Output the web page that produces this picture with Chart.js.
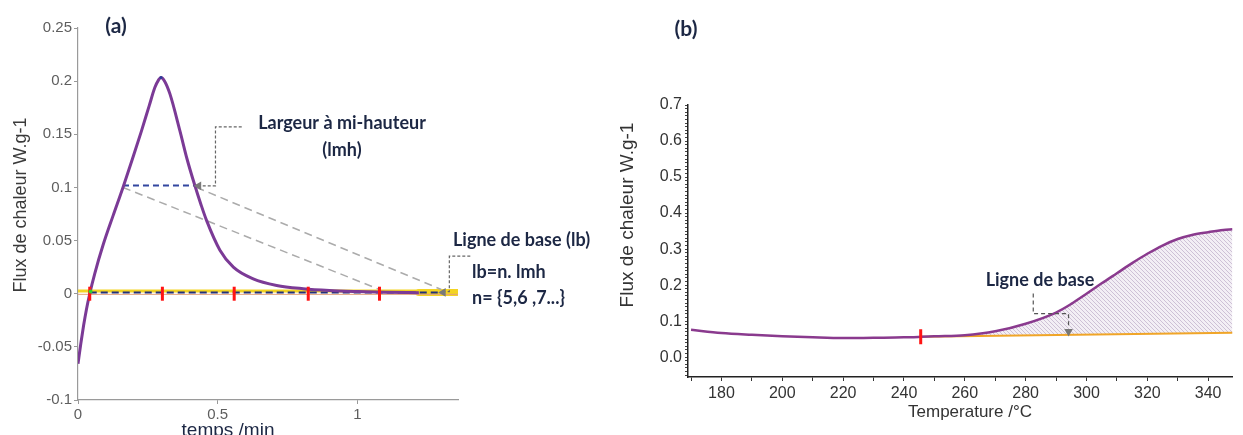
<!DOCTYPE html>
<html lang="fr">
<head>
<meta charset="utf-8">
<script src="https://cdn.jsdelivr.net/npm/chart.js@4.4.1/dist/chart.umd.min.js"></script>
<style>
  html, body { margin: 0; padding: 0; background: #fff; }
  body { width: 1243px; height: 435px; position: relative; overflow: hidden; }
  #chartA { position: absolute; left: 0; top: 0; }
  #chartB { position: absolute; left: 600px; top: 0; }
</style>
</head>
<body>
<canvas id="chartA" width="600" height="435"></canvas>
<canvas id="chartB" width="643" height="435"></canvas>
<script>
// ---- (a) flux de chaleur en fonction du temps ----
const tempsA = [0, 0.01, 0.02, 0.03, 0.042, 0.06, 0.09, 0.125, 0.161, 0.195, 0.227, 0.255, 0.275, 0.288, 0.297,
                0.31, 0.329, 0.365, 0.39, 0.418, 0.44, 0.46, 0.508, 0.556, 0.627, 0.711, 0.806, 0.9, 1.0, 1.1, 1.22];
const fluxA = [-0.066, -0.047, -0.03, -0.015, 0, 0.019, 0.046, 0.073, 0.1, 0.127, 0.153, 0.177, 0.194, 0.201, 0.2035,
               0.2, 0.188, 0.153, 0.127, 0.102, 0.084, 0.069, 0.041, 0.025, 0.014, 0.0078, 0.0047, 0.003, 0.002, 0.0013, 0.001];
const reperesA = [0.042, 0.302, 0.559, 0.824, 1.079];   // traits rouges
const lmhX = [0.161, 0.424];                             // largeur à mi-hauteur
const lmhY = 0.1018;
const baseAX = [0, 1.36];
const ticksYA = [-0.1, -0.05, 0, 0.05, 0.1, 0.15, 0.2, 0.25];
const ticksXA = [0, 0.5, 1];

// ---- (b) flux de chaleur en fonction de la température ----
const tempB = [170, 180, 190, 200, 210, 220, 230, 240, 245.5, 250, 260, 270, 280, 290, 295, 300,
               305, 310, 315, 320, 325, 330, 335, 340, 345, 348];
const fluxB = [0.076, 0.067, 0.062, 0.058, 0.055, 0.053, 0.054, 0.055, 0.0565, 0.058, 0.061, 0.072, 0.093, 0.124, 0.148, 0.176,
               0.205, 0.233, 0.261, 0.287, 0.31, 0.328, 0.34, 0.347, 0.353, 0.355];
const baseBX = [245.5, 348];
const baseBY = [0.0565, 0.068];
const ticksYB = [0, 0.1, 0.2, 0.3, 0.4, 0.5, 0.6, 0.7];
const ticksXB = [180, 200, 220, 240, 260, 280, 300, 320, 340];

const pts = (xs, ys) => xs.map((x, i) => ({ x, y: Array.isArray(ys) ? ys[i] : ys }));

const textes = {
  id: 'textes',
  afterDraw(chart, args, opts) {
    const ctx = chart.ctx;
    for (const t of opts.items) {
      ctx.save();
      ctx.font = t.font;
      ctx.fillStyle = t.color;
      ctx.textAlign = t.align || 'center';
      ctx.textBaseline = 'middle';
      ctx.translate(t.x, t.y);
      if (t.rot) ctx.rotate(t.rot);
      ctx.fillText(t.text, 0, 0);
      ctx.restore();
    }
  }
};

const navy = '#1c2744';
const annot = 'bold 18px Lato';

new Chart(document.getElementById('chartA'), {
  type: 'scatter',
  data: {
    datasets: [
      { data: pts(tempsA, fluxA), showLine: true, borderColor: '#7b3a96', borderWidth: 3, pointRadius: 0,
        cubicInterpolationMode: 'monotone', order: 3 },
      { data: pts(baseAX, 0.0025), showLine: true, borderColor: '#f3d423', borderWidth: 3, pointRadius: 0, order: 9 },
      { data: pts(baseAX, -0.0006), showLine: true, borderColor: '#e3a27a', borderWidth: 1, pointRadius: 0, order: 8 },
      { data: pts([1.22, 1.355], 0.0012), showLine: true, borderColor: '#f3d423', borderWidth: 7, pointRadius: 0,
        borderCapStyle: 'round', order: 9 },
      { data: pts([0.042, 1.30], 0.0012), showLine: true, borderColor: '#23307a', borderWidth: 2, borderDash: [7, 4],
        pointRadius: 0, order: 6 },
      { data: pts(lmhX, lmhY), showLine: true, borderColor: '#3347a0', borderWidth: 2, borderDash: [6, 4],
        pointRadius: 0, order: 5 },
      { data: pts([0.161, 1.079], [0.1, 0.004]), showLine: true, borderColor: '#ababab', borderWidth: 1.5,
        borderDash: [8, 5], pointRadius: 0, order: 7 },
      { data: pts([0.424, 1.30], [0.1, 0.004]), showLine: true, borderColor: '#ababab', borderWidth: 1.5,
        borderDash: [8, 5], pointRadius: 0, order: 7 },
      { data: pts(reperesA, 0), pointStyle: 'line', rotation: 90, pointRadius: 7, borderWidth: 3,
        borderColor: '#ff1414', order: 1 },
      { data: pts([0.045], 0.002), pointRadius: 2, backgroundColor: '#2fd12f', borderWidth: 0, order: 0 },
      { data: pts([0.297], 0.2035), pointRadius: 1.5, backgroundColor: '#2b3f9a', borderWidth: 0, order: 0 },
      { data: pts([0.586, 0.492, 0.492, 0.44], [0.157, 0.157, 0.1015, 0.1015]), showLine: true, borderColor: '#666',
        borderWidth: 1.2, borderDash: [3, 2], pointRadius: 0, order: 2 },
      { data: pts([0.432], 0.1015), pointStyle: 'triangle', rotation: 270, pointRadius: 5, backgroundColor: '#7a7a7a',
        borderWidth: 0, order: 2 },
      { data: pts([1.404, 1.329, 1.329, 1.315], [0.0353, 0.0353, 0.002, 0.002]), showLine: true, borderColor: '#666',
        borderWidth: 1.2, borderDash: [3, 2], pointRadius: 0, clip: false, order: 2 },
      { data: pts([1.307], 0.0012), pointStyle: 'triangle', rotation: 270, pointRadius: 5, backgroundColor: '#7a7a7a',
        borderWidth: 0, clip: false, order: 2 }
    ]
  },
  options: {
    responsive: false,
    animation: false,
    events: [],
    layout: { padding: { left: 0, top: 28, right: 142, bottom: 0 } },
    plugins: {
      legend: { display: false },
      tooltip: { enabled: false },
      textes: { items: [
        { text: '(a)', x: 116, y: 26, font: 'bold 21px Lato', color: navy },
        { text: 'Flux de chaleur W.g-1', x: 21, y: 205, rot: -Math.PI / 2, font: '18px "Liberation Sans"', color: '#3a3a3a' },
        { text: 'temps /min', x: 228, y: 431, font: '19px "Liberation Sans"', color: navy },
        { text: 'Largeur à mi-hauteur', x: 342, y: 123, font: annot, color: navy },
        { text: '(lmh)', x: 342, y: 150, font: annot, color: navy },
        { text: 'Ligne de base (lb)', x: 453, y: 240, align: 'left', font: annot, color: navy },
        { text: 'lb=n. lmh', x: 472, y: 272, align: 'left', font: annot, color: navy },
        { text: 'n= {5,6 ,7...}', x: 472, y: 298, align: 'left', font: annot, color: navy }
      ] }
    },
    scales: {
      x: {
        type: 'linear', min: 0, max: 1.36,
        afterBuildTicks: s => { s.ticks = ticksXA.map(v => ({ value: v })); },
        afterFit: s => { s.height = 35; },
        ticks: { font: { family: 'Liberation Sans', size: 15 }, color: '#5e5e5e', padding: 2, maxRotation: 0,
                 callback: v => String(v) },
        grid: { drawOnChartArea: false, tickLength: 4, color: '#999' },
        border: { color: '#9a9a9a', width: 1.2 }
      },
      y: {
        min: -0.1, max: 0.25,
        afterBuildTicks: s => { s.ticks = ticksYA.map(v => ({ value: v })); },
        afterFit: s => { s.width = 78; },
        ticks: { font: { family: 'Liberation Sans', size: 15 }, color: '#5e5e5e', padding: 2,
                 callback: v => String(+v.toFixed(2)) },
        grid: { drawOnChartArea: false, tickLength: 4, color: '#999' },
        border: { color: '#9a9a9a', width: 1.2 }
      }
    }
  },
  plugins: [textes]
});

// motif hachuré pour l'aire au-dessus de la ligne de base
const ctxB = document.getElementById('chartB').getContext('2d');
const tuile = document.createElement('canvas');
tuile.width = 4; tuile.height = 4;
const g = tuile.getContext('2d');
g.fillStyle = '#f3eff5';
g.fillRect(0, 0, 4, 4);
g.strokeStyle = '#c9bbd2';
g.lineWidth = 0.9;
g.beginPath();
g.moveTo(0, 0); g.lineTo(4, 4);
g.moveTo(-2, 2); g.lineTo(2, 6);
g.moveTo(2, -2); g.lineTo(6, 2);
g.stroke();
const hachures = ctxB.createPattern(tuile, 'repeat');

const pic = tempB.map((t, i) => ({ x: t, y: fluxB[i] })).filter(p => p.x >= baseBX[0]);
const minorX = [];
for (let v = 170; v <= 340; v += 10) minorX.push(v);
const minorY = [];
for (let k = -5; k <= 70; k++) minorY.push(k / 100);

new Chart(ctxB, {
  type: 'scatter',
  data: {
    datasets: [
      { data: pts(tempB, fluxB), showLine: true, borderColor: '#8a3a8e', borderWidth: 2.5, pointRadius: 0,
        cubicInterpolationMode: 'monotone', order: 2 },
      { data: pic, showLine: true, borderWidth: 0, pointRadius: 0, cubicInterpolationMode: 'monotone',
        backgroundColor: hachures, fill: { target: 2, above: hachures, below: hachures }, order: 8 },
      { data: pts(baseBX, baseBY), showLine: true, borderColor: '#f0a528', borderWidth: 2, pointRadius: 0, order: 3 },
      { data: pts([245.5], 0.0565), pointStyle: 'line', rotation: 90, pointRadius: 7.5, borderWidth: 3,
        borderColor: '#ff1414', order: 1 },
      { data: pts([282.5, 282.5, 294.1, 294.1], [0.177, 0.121, 0.121, 0.08]), showLine: true, borderColor: '#555',
        borderWidth: 1.2, borderDash: [4, 3], pointRadius: 0, order: 1 },
      { data: pts([294.1], 0.071), pointStyle: 'triangle', rotation: 180, pointRadius: 5, backgroundColor: '#777',
        borderWidth: 0, order: 1 }
    ]
  },
  options: {
    responsive: false,
    animation: false,
    events: [],
    layout: { padding: { left: 0, top: 105, right: 0, bottom: 0 } },
    plugins: {
      legend: { display: false },
      tooltip: { enabled: false },
      textes: { items: [
        { text: '(b)', x: 86, y: 29, font: 'bold 21px Lato', color: navy },
        { text: 'Flux de chaleur W.g-1', x: 28, y: 215, rot: -Math.PI / 2, font: '19px "Liberation Sans"', color: '#333' },
        { text: 'Temperature /°C', x: 370, y: 412, font: '17px "Liberation Sans"', color: '#333' },
        { text: 'Ligne de base', x: 440, y: 280, font: annot, color: navy }
      ] }
    },
    scales: {
      x: {
        type: 'linear', min: 169, max: 348,
        afterBuildTicks: s => { s.ticks = minorX.map(v => ({ value: v })); },
        afterFit: s => { s.height = 58; },
        ticks: { font: { family: 'Liberation Sans', size: 16 }, color: '#333', padding: 3, maxRotation: 0, autoSkip: false,
                 callback: v => ticksXB.includes(v) ? String(v) : '' },
        grid: { drawOnChartArea: false, tickLength: 4, color: '#333' },
        border: { color: '#222', width: 1.5 }
      },
      y: {
        min: -0.055, max: 0.7,
        afterBuildTicks: s => { s.ticks = minorY.map(v => ({ value: v })); },
        afterFit: s => { s.width = 88; },
        ticks: { font: { family: 'Liberation Sans', size: 16 }, color: '#333', padding: 3, autoSkip: false,
                 callback: v => ticksYB.some(t => Math.abs(t - v) < 1e-6) ? v.toFixed(1) : '' },
        grid: { drawOnChartArea: false, tickLength: 3, color: '#444' },
        border: { color: '#222', width: 1.5 }
      }
    }
  },
  plugins: [textes]
});
</script>
</body>
</html>
